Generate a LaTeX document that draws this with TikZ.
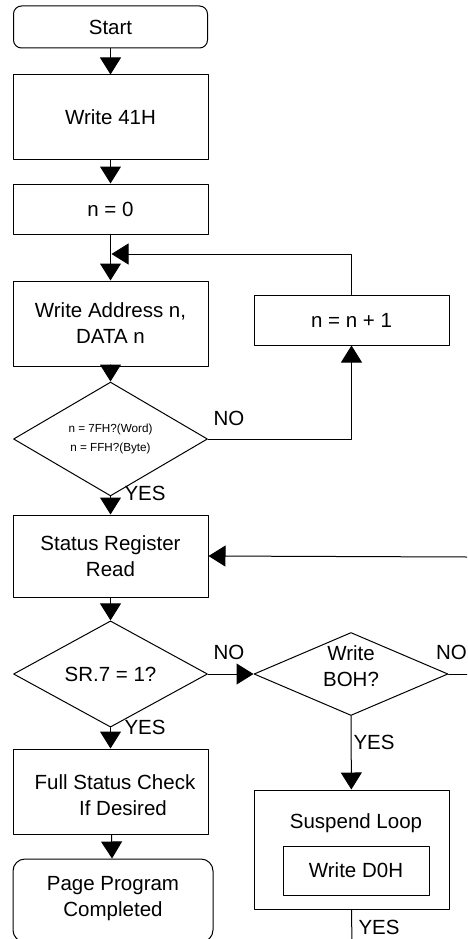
\documentclass[tikz,border=0pt]{standalone}
\usepackage{fontspec}
\setmainfont{Liberation Sans}
\usetikzlibrary{arrows.meta}
\usetikzlibrary{shapes.geometric}
\begin{document}
\begin{tikzpicture}[line cap=round,line join=round,>={Triangle[length=17pt,width=21pt]},x=1pt,y=-1pt,
  line width=1pt,
  txt/.style={inner sep=0pt,align=center,font=\fontsize{20.5}{26}\selectfont},
  box/.style={txt,draw,rectangle,minimum width=195pt},
  rbox/.style={box,rounded corners=#1},
  dia/.style={txt,draw,diamond,minimum width=194pt,minimum height=#1},
  lbl/.style={txt,anchor=west}]
\useasboundingbox (0,0) rectangle (467,939);
\clip (0,0) rectangle (467,939);
% left column
\node[rbox=8pt,minimum width=194pt,minimum height=42pt] (start) at (110.5,27) {Start};
\node[box,minimum height=84pt] (w41) at (110.5,117) {Write 41H};
\node[box,minimum height=50pt] (n0) at (110.5,209) {n = 0};
\node[box,minimum height=85pt] (wad) at (110.5,323.5) {Write Address n,\\DATA n};
\node[dia=80pt,font=\fontsize{11.7}{19}\selectfont] (dia1) at (110.5,439) {n = 7FH?(Word)\\n = FFH?(Byte)};
\node[box,minimum height=82pt] (sr) at (110.5,556) {Status Register\\Read};
\node[dia=82pt] (dia2) at (110.5,674) {SR.7 = 1?};
\node[box,minimum height=85pt] (fsc) at (110.5,791.5) {};
\node[txt] (fsct) at (115,782) {Full Status Check};
\node[txt] (fsct2) at (123,808) {If Desired};
\node[rbox=12pt,minimum width=200pt,minimum height=83pt] (ppc) at (113,900.5) {};
\node[txt] (ppct) at (113,898.5) {Page Program\\Completed};
% right column
\node[box,minimum height=50pt] (inc) at (351.5,320) {n = n + 1};
\node[dia=83pt] (boh) at (351,674) {};
\node[txt] (boht) at (351,666) {Write\\BOH?};
\node[box,minimum height=119pt] (susp) at (351.5,849.5) {};
\node[txt] (suspt) at (356,823) {Suspend Loop};
\node[box,minimum width=146pt,minimum height=49pt] (wd0) at (356,870.5) {Write D0H};
% free ends
\coordinate (mrg) at (111.5,254);
\coordinate (rin) at (467,557);
\coordinate (rout) at (467,674);
\coordinate (bot) at (352,945);
% connectors
\draw[->] (start) -- (w41);
\draw[->] (w41) -- (n0);
\draw[->] (n0) -- (wad);
\draw[->] (wad) -- (dia1);
\draw[->] (dia1.east) -| (inc.south);
\draw[->] (inc.north) |- (mrg);
\draw[->] (dia1) -- (sr);
\draw[->] (rin) -- (sr.east);
\draw[->] (sr) -- (dia2);
\draw[->] (dia2.east) -- (boh.west);
\draw (boh.east) -- (rout);
\draw[->] (dia2) -- (fsc);
\draw[->] (fsc) -- (ppc);
\draw[->] (boh) -- (susp);
\draw (susp.south) -- (bot);
% labels
\node[lbl] (no1) at (213,418) {NO};
\node[lbl] (yes1) at (124,493) {YES};
\node[lbl] (no2) at (213,652) {NO};
\node[lbl] (no3) at (435.5,652) {NO};
\node[lbl] (yes2) at (124,727) {YES};
\node[lbl] (yes3) at (353,742) {YES};
\node[lbl] (yes4) at (358,927) {YES};
\end{tikzpicture}
\end{document}
